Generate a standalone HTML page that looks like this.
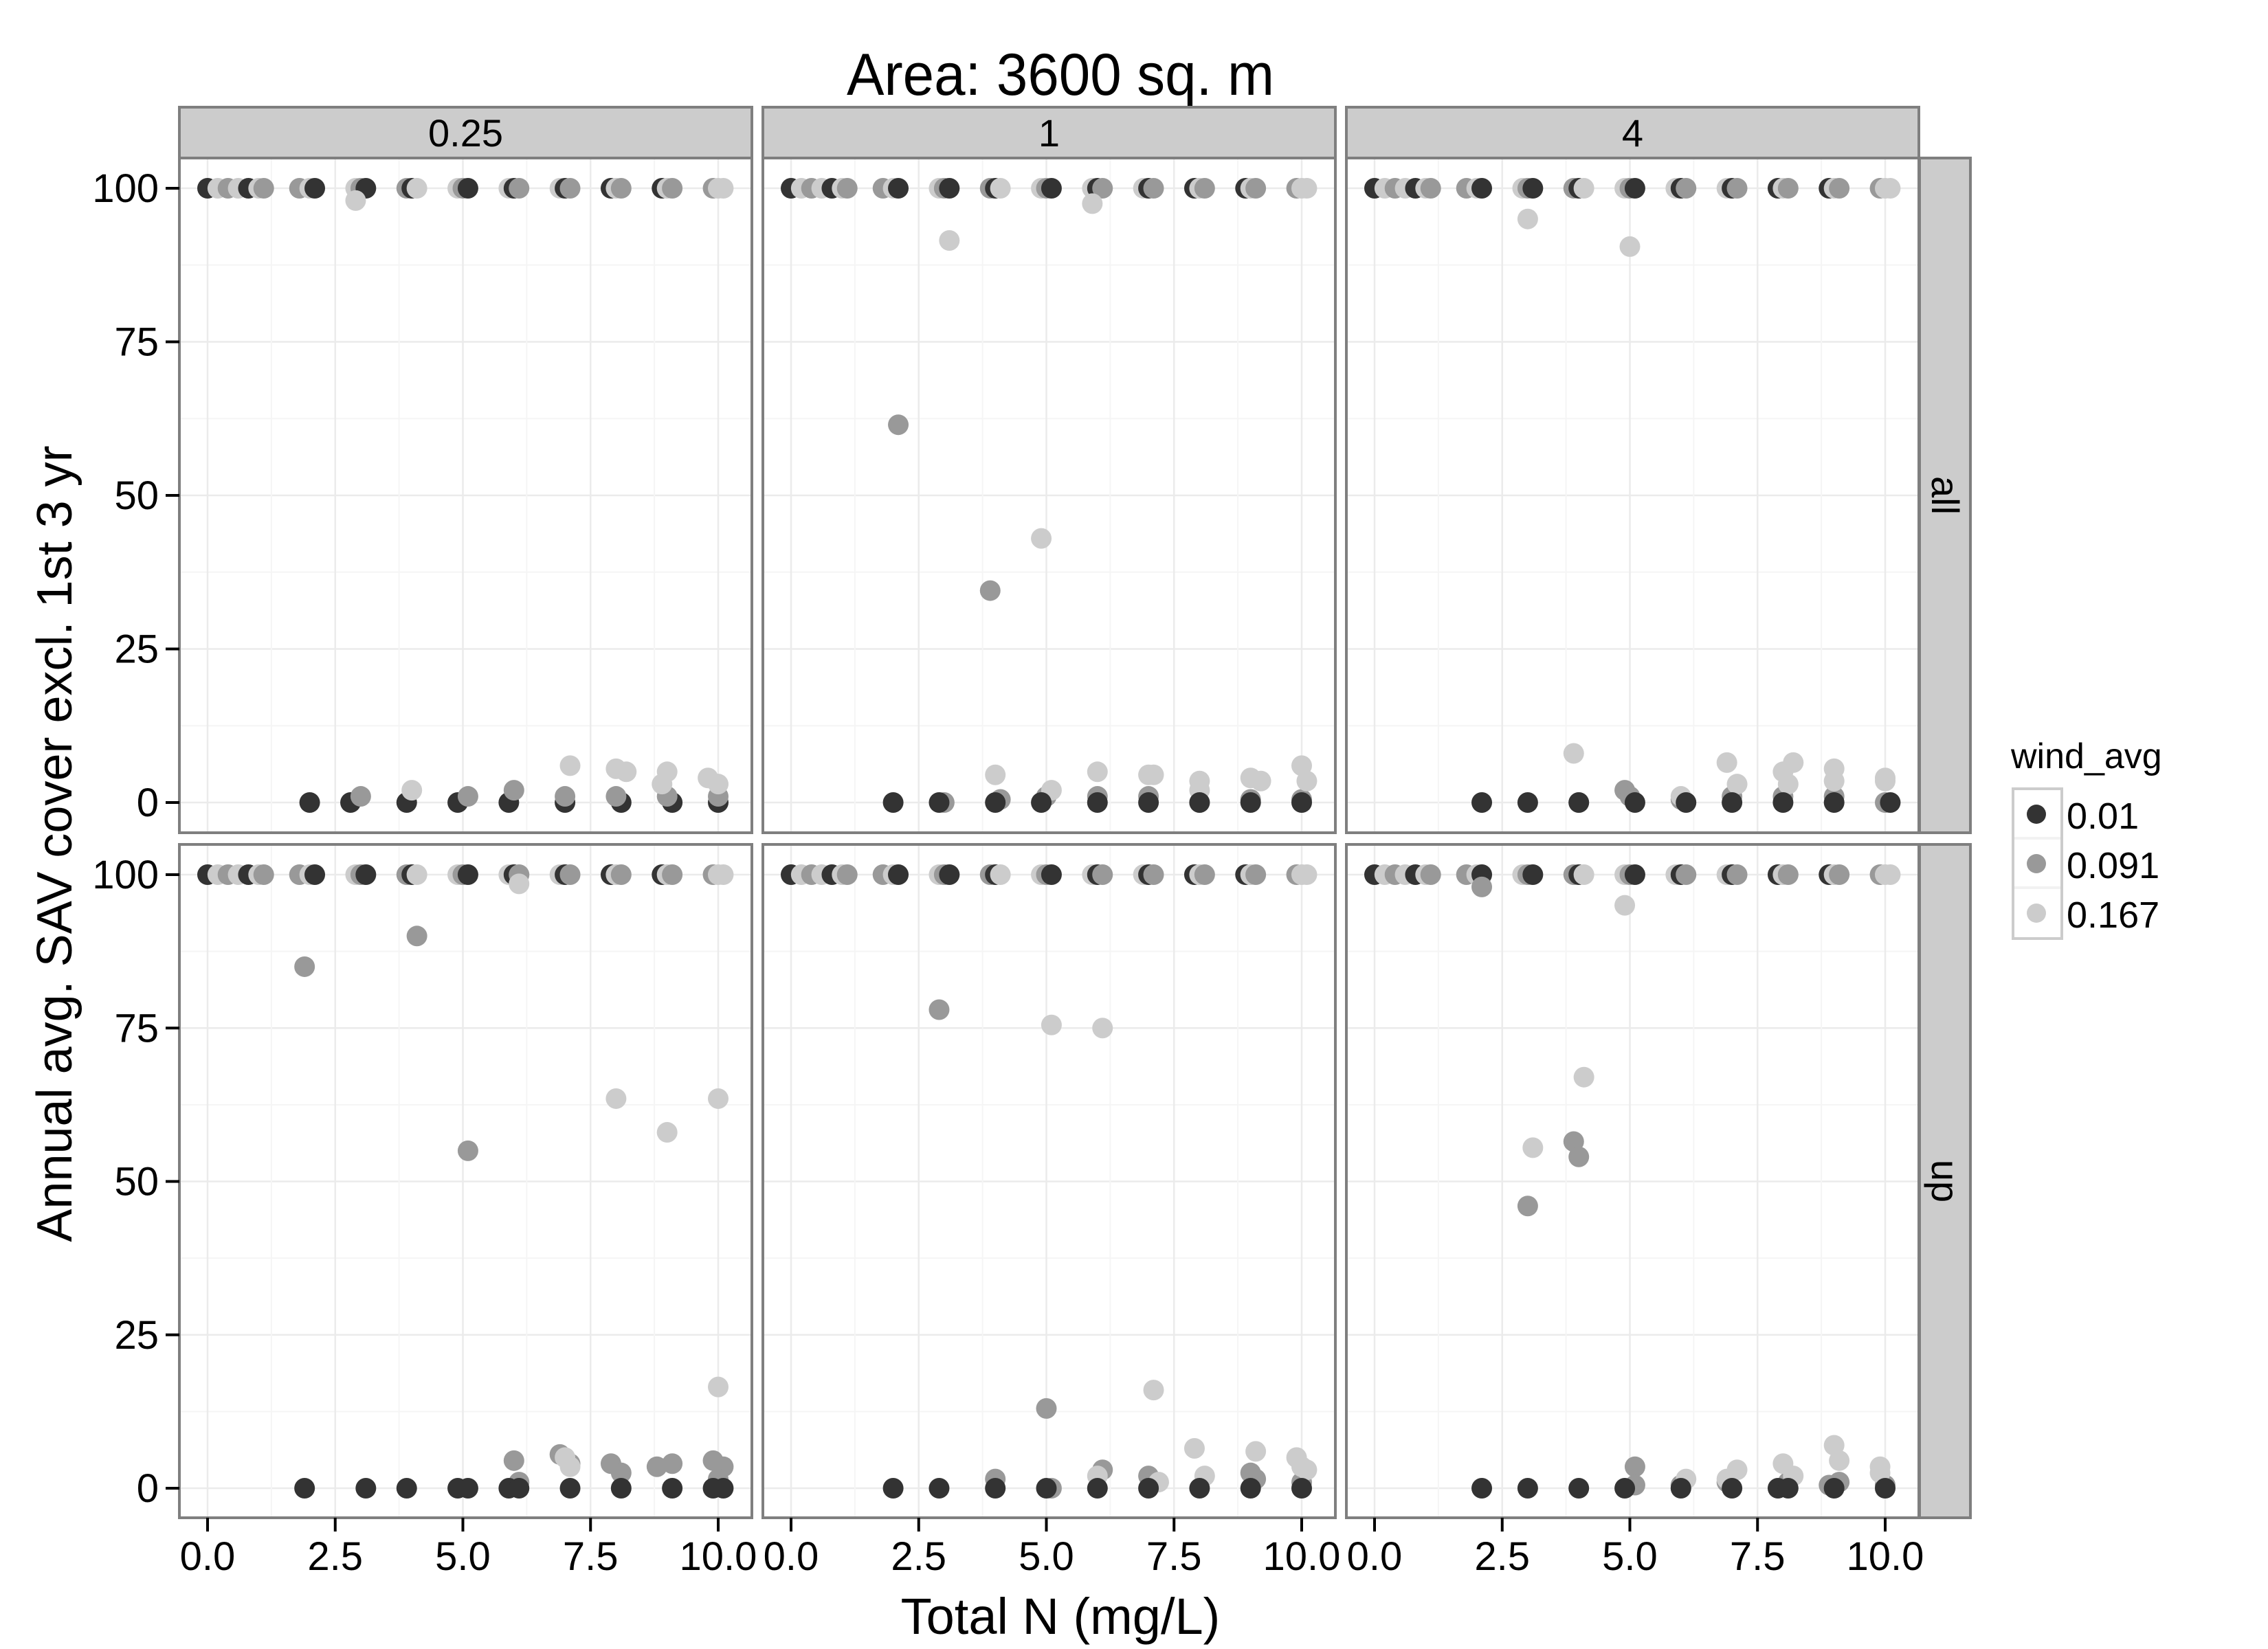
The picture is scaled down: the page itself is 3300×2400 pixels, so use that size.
<!DOCTYPE html>
<html><head><meta charset="utf-8"><style>
html,body{margin:0;padding:0;background:#fff;}
svg{display:block;font-family:"Liberation Sans",Arial,sans-serif;}
</style></head><body>
<svg id="chart" width="3300" height="2400" viewBox="0 0 3300 2400" xmlns="http://www.w3.org/2000/svg">
<text x="1543" y="138" font-size="86" text-anchor="middle" transform="translate(1543,0) scale(0.95,1) translate(-1543,0)">Area: 3600 sq. m</text>
<text transform="translate(104,1228) rotate(-90)" font-size="72" text-anchor="middle">Annual avg. SAV cover excl. 1st 3 yr</text>
<text x="1543" y="2378" font-size="74" text-anchor="middle">Total N (mg/L)</text>
<g id="panels"></g>
<g>
<text x="2926" y="1118" font-size="52">wind_avg</text>
<rect x="2929" y="1148" width="71" height="218" fill="#f2f2f2" stroke="#ccc" stroke-width="4"/>
<rect x="2931" y="1150" width="67" height="68" fill="#fff"/>
<rect x="2931" y="1222" width="67" height="68" fill="#fff"/>
<rect x="2931" y="1294" width="67" height="70" fill="#fff"/>
<circle cx="2963" cy="1185" r="14" fill="#333"/>
<circle cx="2963" cy="1257" r="14" fill="#999"/>
<circle cx="2963" cy="1329" r="14" fill="#ccc"/>
<text x="3007" y="1206" font-size="54">0.01</text>
<text x="3007" y="1278" font-size="54">0.091</text>
<text x="3007" y="1350" font-size="54">0.167</text>
</g>
</svg>
<script>
const colLabels = ["0.25","1","4"];
const rowLabels = ["all","up"];
const groupColors = ["#333333","#999999","#cccccc"];
const xTicks = [0,2.5,5,7.5,10];
const xTickLabels = ["0.0","2.5","5.0","7.5","10.0"];
const yTicks = [0,25,50,75,100];
const yTickLabels = ["0","25","50","75","100"];
// shared points at 100 (x, group)
const topX = [0,0.2,0.4,0.6,0.8,1.0,1.1,1.8,2.0,2.1,2.9,3.0,3.1,3.9,4.0,4.1,4.9,5.0,5.1,5.9,6.0,6.1,6.9,7.0,7.1,7.9,8.0,8.1,8.9,9.0,9.1,9.9,10.0,10.1];
const topG = [0,2,1,2,0,2,1,1,2,0,2,1,0,1,0,2,2,1,0,2,0,1,2,0,1,0,2,1,0,2,1,1,2,2];
const p00x=[2.9,2.0,2.8,3.9,4.9,5.9,7.0,8.1,9.1,10.0,3.0,5.1,6.0,7.0,8.0,9.0,10.0,4.0,7.1,8.0,8.2,9.0,8.9,9.8,10.0];
const p00y=[98,0,0,0,0,0,0,0,0,0,1,1,2,1,1,1,1,2,6,5.5,5,5,3,4,3];
const p00g=[2,0,0,0,0,0,0,0,0,0,1,1,1,1,1,1,1,2,2,2,2,2,2,2,2];
const p01x=[2.1,3.9,4.9,3.1,5.9,3.0,4.1,5.0,6.0,7.0,8.0,9.0,10.0,4.0,5.1,6.0,7.0,7.1,8.0,8.0,9.0,9.2,10.0,10.1,2.0,2.9,4.0,4.9,6.0,7.0,8.0,9.0,10.0];
const p01y=[61.5,34.5,43,91.5,97.5,0,0.5,1,1,1,0,0.5,0.5,4.5,2,5,4.5,4.5,3.5,2,4,3.5,6,3.5,0,0,0,0,0,0,0,0,0];
const p01g=[1,1,2,2,2,1,1,1,1,1,1,1,1,2,2,2,2,2,2,2,2,2,2,2,0,0,0,0,0,0,0,0,0];
const p02x=[3.0,5.0,4.9,4.0,6.0,7.0,8.0,9.0,10.0,5.0,3.9,6.9,7.1,8.0,8.2,8.1,9.0,9.0,10.0,10.0,6.0,2.1,3.0,4.0,5.1,6.1,7.0,8.0,9.0,10.1];
const p02y=[95,90.5,2,0,0.5,1,1,1,0,1,8,6.5,3,5,6.5,3,5.5,3.5,4,3.5,1,0,0,0,0,0,0,0,0,0];
const p02g=[2,2,1,1,1,1,1,1,1,1,2,2,2,2,2,2,2,2,2,2,2,0,0,0,0,0,0,0,0,0];
const p10x=[1.9,4.1,5.1,8.0,9.0,10.0,10.0,6.1,6.0,6.1,6.9,7.1,7.9,8.1,8.8,9.1,9.9,10.1,10.0,7.0,7.1,1.9,3.1,3.9,4.9,5.1,5.9,6.1,7.1,8.1,9.1,9.9,10.1];
const p10y=[85,90,55,63.5,58,63.5,16.5,98.5,4.5,1,5.5,4,4,2.5,3.5,4,4.5,3.5,1.5,5,3.5,0,0,0,0,0,0,0,0,0,0,0,0];
const p10g=[1,1,1,2,2,2,2,2,1,1,1,1,1,1,1,1,1,1,1,2,2,0,0,0,0,0,0,0,0,0,0,0,0];
const p11x=[2.9,5.0,5.1,6.1,7.1,4.0,6.1,7.0,9.0,9.1,10.0,5.1,7.9,9.1,9.9,10.0,10.1,6.0,8.1,7.2,2.0,2.9,4.0,5.0,6.0,7.0,8.0,9.0,10.0];
const p11y=[78,13,75.5,75,16,1.5,3,2,2.5,1.5,1,0,6.5,6,5,3.5,3,2,2,1,0,0,0,0,0,0,0,0,0];
const p11g=[1,1,2,2,2,1,1,1,1,1,1,1,2,2,2,2,2,2,2,2,0,0,0,0,0,0,0,0,0];
const p12x=[3.0,3.9,4.0,2.1,3.1,4.1,4.9,5.1,5.1,6.0,6.9,8.1,9.1,8.9,10.0,7.1,8.0,8.2,9.0,9.1,9.9,9.9,6.9,6.1,2.1,3.0,4.0,4.9,6.0,7.0,7.9,8.1,9.0,10.0];
const p12y=[46,56.5,54,98,55.5,67,95,3.5,0.5,0.5,1,1,1,0.5,0.5,3,4,2,7,4.5,3.5,2.5,1.5,1.5,0,0,0,0,0,0,0,0,0,0];
const p12g=[1,1,1,1,2,2,2,1,1,1,1,1,1,1,1,2,2,2,2,2,2,2,2,2,0,0,0,0,0,0,0,0,0,0];
const panelX=[[p00x,p01x,p02x],[p10x,p11x,p12x]];
const panelY=[[p00y,p01y,p02y],[p10y,p11y,p12y]];
const panelG=[[p00g,p01g,p02g],[p10g,p11g,p12g]];

const NS="http://www.w3.org/2000/svg";
const root=document.getElementById('panels');
const colLeft=[261,1110,1959], panelW=833;
const rowTop=[230,1229], rowBottom=[1212,2209];
const y100=[274,1273], y0=[1168,2166];
function mk(tag,attrs,parent){const e=document.createElementNS(NS,tag);for(const k in attrs)e.setAttribute(k,attrs[k]);parent.appendChild(e);return e;}
function xScale(c,v){return colLeft[c]+41+v*74.3;}
function yScale(r,v){return y0[r]+(y100[r]-y0[r])*v/100;}
for(let r=0;r<2;r++){for(let c=0;c<3;c++){
  const g=mk('g',{},root);
  
  
  const L=colLeft[c],T=rowTop[r],B=rowBottom[r];
  mk('rect',{x:L,y:T,width:panelW,height:B-T,fill:'#fff'},g);
  for(let i=0;i<yTicks.length;i++){
    const yy=yScale(r,yTicks[i]);
    mk('line',{x1:L,x2:L+panelW,y1:yy,y2:yy,stroke:'#ebebeb','stroke-width':2.5},g);
    if(i<yTicks.length-1){const ym=yScale(r,(yTicks[i]+yTicks[i+1])/2);mk('line',{x1:L,x2:L+panelW,y1:ym,y2:ym,stroke:'#f5f5f5','stroke-width':2},g);}
  }
  for(let i=0;i<xTicks.length;i++){
    const xx=xScale(c,xTicks[i]);
    mk('line',{x1:xx,x2:xx,y1:T,y2:B,stroke:'#ebebeb','stroke-width':2.5},g);
    if(i<xTicks.length-1){const xm=xScale(c,(xTicks[i]+xTicks[i+1])/2);mk('line',{x1:xm,x2:xm,y1:T,y2:B,stroke:'#f5f5f5','stroke-width':2},g);}
  }
  for(let i=0;i<topX.length;i++){
    const p=mk('circle',{cx:xScale(c,topX[i]),cy:yScale(r,100),r:15,fill:groupColors[topG[i]]},g);
    
    
  }
  const xs=panelX[r][c],ys=panelY[r][c],gs=panelG[r][c];
  for(let i=0;i<xs.length;i++){
    const p=mk('circle',{cx:xScale(c,xs[i]),cy:yScale(r,ys[i]),r:15,fill:groupColors[gs[i]]},g);
    
    
  }
  mk('rect',{x:L,y:T,width:panelW,height:B-T,fill:'none',stroke:'#7f7f7f','stroke-width':4},g);
  if(c===0){
    for(let i=0;i<yTicks.length;i++){
      const yy=yScale(r,yTicks[i]);
      mk('line',{x1:L-20,x2:L,y1:yy,y2:yy,stroke:'#000','stroke-width':4},g);
      const t=mk('text',{x:L-30,y:yy+20,'font-size':58,'text-anchor':'end'},g);
      t.textContent=yTickLabels[i];
      
      
    }
  }
  if(r===1){
    for(let i=0;i<xTicks.length;i++){
      const xx=xScale(c,xTicks[i]);
      mk('line',{x1:xx,x2:xx,y1:B,y2:B+20,stroke:'#000','stroke-width':4},g);
      const t=mk('text',{x:xx,y:B+76,'font-size':58,'text-anchor':'middle'},g);
      t.textContent=xTickLabels[i];
      
      
    }
  }
}}
for(let c=0;c<3;c++){
  const s=mk('g',{},root);
  
  
  mk('rect',{x:colLeft[c],y:156,width:panelW,height:74,fill:'#cccccc',stroke:'#7f7f7f','stroke-width':4},s);
  const t=mk('text',{x:colLeft[c]+panelW/2,y:213,'font-size':56,'text-anchor':'middle'},s);
  t.textContent=colLabels[c];
}
for(let r=0;r<2;r++){
  const s=mk('g',{},root);
  
  
  mk('rect',{x:2793,y:rowTop[r],width:74,height:rowBottom[r]-rowTop[r],fill:'#cccccc',stroke:'#7f7f7f','stroke-width':4},s);
  const cy=(rowTop[r]+rowBottom[r])/2;
  const t=mk('text',{transform:'translate(2811,'+cy+') rotate(90)','font-size':56,'text-anchor':'middle'},s);
  t.textContent=rowLabels[r];
}
</script>
</body></html>
